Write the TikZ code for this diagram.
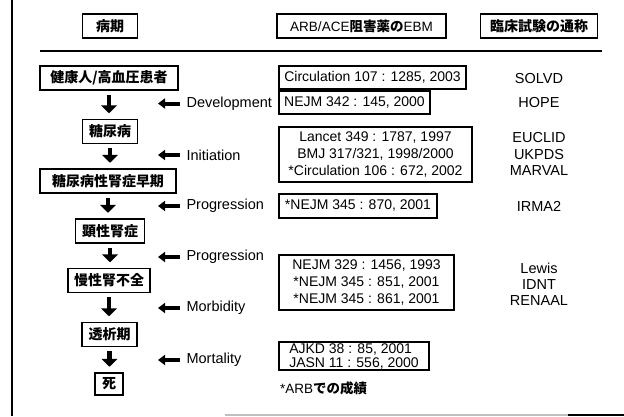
\documentclass[tikz,border=0pt]{standalone}
\usepackage{fontspec}
\setmainfont{Liberation Sans}
\newfontfamily\jp{Noto Sans CJK JP}
\usetikzlibrary{arrows.meta}
\begin{document}
\begin{tikzpicture}[x=1pt,y=-1pt,
  jbox/.style={draw,line width=1.5pt,inner sep=0pt,minimum height=24pt,font=\jp\bfseries\fontsize{14}{16}\selectfont},
  refbox/.style={draw,line width=1.4pt,inner sep=0pt,align=center,font=\fontsize{14}{17}\selectfont},
  trial/.style={font=\fontsize{14.5}{16}\selectfont},
  stage/.style={anchor=west,font=\fontsize{14.5}{16}\selectfont},
  down/.style={line width=4.5pt,-{Triangle[width=16pt,length=8pt]},shorten <=4pt,shorten >=5.5pt},
  back/.style={line width=4pt,-{Triangle[width=10pt,length=7pt]}}]
\useasboundingbox (0,0) rectangle (624,416);
% frame
\draw[line width=1.5pt] (12,0) -- (12,416);
\draw[line width=1.2pt,black!25] (225,415) -- (568,415);
\draw[line width=1.2pt] (568,415) -- (624,415);
% headers
\node[jbox,minimum width=55pt] (h1) at (110,26) {病期};
\node[jbox,minimum width=169pt] (h2) at (361.5,26) {\normalfont\fontsize{13.5}{16}\selectfont ARB/ACE{\jp\bfseries 阻害薬の}EBM};
\node[jbox,minimum width=117pt] (h3) at (539,26) {臨床試験の通称};
\draw[line width=1.6pt] (40,51) -- (602,51);
% stages
\node[jbox,minimum width=138pt] (n1) at (109,78) {健康人/高血圧患者};
\node[jbox,minimum width=55pt] (n2) at (110,131.5) {糖尿病};
\node[jbox,minimum width=136pt] (n3) at (108,181) {糖尿病性腎症早期};
\node[jbox,minimum width=69pt] (n4) at (110,231) {顕性腎症};
\node[jbox,minimum width=82pt] (n5) at (109,280.5) {慢性腎不全};
\node[jbox,minimum width=55pt] (n6) at (109.5,334.5) {透析期};
\node[jbox,minimum width=28pt,minimum height=22pt] (n7) at (109,384) {死};
\draw[down] (n1.south) -- (n1.south |- n2.north);
\draw[down] (n2.south) -- (n2.south |- n3.north);
\draw[down] (n3.south) -- (n3.south |- n4.north);
\draw[down] (n4.south) -- (n4.south |- n5.north);
\draw[down] (n5.south) -- (n5.south |- n6.north);
\draw[down] (n6.south) -- (n6.south |- n7.north);
% outcome labels
\node[stage] (s1) at (183,103.5) {Development};
\node[stage] (s2) at (183,155) {Initiation};
\node[stage] (s3) at (183,206) {Progression};
\node[stage] (s4) at (183,257) {Progression};
\node[stage] (s5) at (183,308) {Morbidity};
\node[stage] (s6) at (183,360) {Mortality};
\foreach \s in {s1,s2,s3,s4,s5,s6}
  \draw[back] ([xshift=-3pt]\s.west) -- ++(-22,0);
% evidence boxes
\node[refbox,minimum width=187pt,minimum height=23pt] (r1) at (372.5,77.5) {Circulation 107 : 1285, 2003};
\node[refbox,minimum width=151pt,minimum height=23pt] (r2) at (354.5,102.5) {NEJM 342 : 145, 2000};
\node[refbox,minimum width=193pt,minimum height=55pt] (r3) at (375.5,154.5) {Lancet 349 : 1787, 1997\\BMJ 317/321, 1998/2000\\*Circulation 106 : 672, 2002};
\node[refbox,minimum width=158pt,minimum height=24pt] (r4) at (358,206) {*NEJM 345 : 870, 2001};
\node[refbox,minimum width=175pt,minimum height=55pt] (r5) at (366.5,282.5) {NEJM 329 : 1456, 1993\\*NEJM 345 : 851, 2001\\*NEJM 345 : 861, 2001};
\node[refbox,align=left,font=\fontsize{14}{14}\selectfont,minimum width=150pt,minimum height=28pt] (r6) at (354,356) {AJKD 38 : 85, 2001\\JASN 11 : 556, 2000};
\node[anchor=west,inner sep=0pt,font=\fontsize{13.5}{16}\selectfont] (fn) at (280,388) {*ARB{\jp\bfseries での成績}};
% trial names
\node[trial] (t1) at (539,79) {SOLVD};
\node[trial] (t2) at (539,103) {HOPE};
\node[trial] (t3) at (539,138) {EUCLID};
\node[trial] (t4) at (539,154.5) {UKPDS};
\node[trial] (t5) at (539,171) {MARVAL};
\node[trial] (t6) at (539,206) {IRMA2};
\node[trial] (t7) at (539,268) {Lewis};
\node[trial] (t8) at (539,284.5) {IDNT};
\node[trial] (t9) at (539,301) {RENAAL};
\end{tikzpicture}
\end{document}
